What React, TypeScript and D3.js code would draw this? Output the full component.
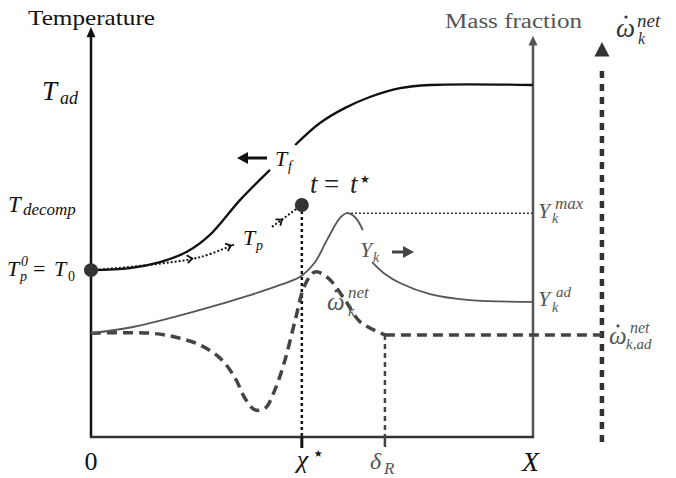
import React from 'react';
import * as d3 from 'd3';

const W = 676;
const H = 478;

// Schematic data: x in 0..100 (0..X along the domain), y in 0..100 (0..T_ad)
const tfX = [0, 8.8, 15.6, 21.7, 26.9, 33.7, 40.5, NaN, 46.2, 51.8, 57.5, 63.1, 69.9, 76.7, 100];
const tfY = [47.4, 48.0, 49.7, 52.6, 57.4, 67.3, 75.9, NaN, 82.95, 89.2, 93.5, 96.6, 99.1, 100, 100];

const tpX = [0, 13.3, 24.7, 32.6, NaN, 40.95, 46.8];
const tpY = [47.4, 48.9, 51.1, 54.8, NaN, 59.7, 65.1];
const tpArrowX = [22.9, 31.7, 43.2];

const ykX = [0, 9.5, 24.7, 36.0, 42.8, 47.3, 50.7, 53.4, 56.3, 57.9, 59.7, 61.5, NaN, 63.6, 66.5, 69.9, 76.7, 85.7, 100];
const ykY = [29.5, 31.25, 36.1, 40.3, 43.2, 45.5, 49.7, 56.0, 62.2, 63.6, 62.5, 58.8, NaN, 49.7, 46.3, 43.75, 40.6, 38.9, 38.4];

const omX = [0, 13.3, 19.0, 24.7, 29.2, 32.6, 34.8, 37.1, 39.4, 41.6, 43.9, 46.2, 48.4, 50.7, 53.6, 57.5, 60.9, 66.5];
const omY = [29.5, 29.5, 28.4, 26.1, 22.4, 16.8, 11.1, 7.7, 8.2, 13.4, 21.9, 33.2, 43.2, 46.9, 45.2, 38.9, 32.7, 29.0];

const T_AD = 100;
const T_DECOMP = 65.9;
const T0 = 47.4;
const Y_MAX = 63.6;
const Y_MAX_X = 57.9;
const Y_AD = 38.4;
const OM_AD = 29.0;
const CHI_STAR = 47.7;
const DELTA_R = 66.5;
const X_END = 100;
const OM_AXIS = 115.6;

const xs = d3.scaleLinear().domain([0, 100]).range([91, 533]);
const ys = d3.scaleLinear().domain([0, 100]).range([437, 85]);

const MF = "Liberation Serif, 'Times New Roman', Times, serif";
const BLACK = '#111';
const GRAY = '#555';

function pts(xa: number[], ya: number[]): [number, number][] {
  return xa.map((x, i) => [x, ya[i]] as [number, number]);
}

const lineGen = d3
  .line<[number, number]>()
  .defined((d) => !isNaN(d[0]) && !isNaN(d[1]))
  .x((d) => xs(d[0]))
  .y((d) => ys(d[1]))
  .curve(d3.curveCatmullRom.alpha(0.5));

function interpAt(xa: number[], ya: number[], x: number) {
  for (let i = 0; i < xa.length - 1; i++) {
    const x0 = xa[i], x1 = xa[i + 1];
    if (isNaN(x0) || isNaN(x1)) continue;
    if (x >= x0 && x <= x1) {
      const t = (x - x0) / (x1 - x0);
      const y = ya[i] + t * (ya[i + 1] - ya[i]);
      const ang = Math.atan2(ys(ya[i + 1]) - ys(ya[i]), xs(x1) - xs(x0));
      return { y, ang };
    }
  }
  return { y: ya[0], ang: 0 };
}

type LabProps = {
  x: number; y: number; base: string; size: number; color: string;
  sup?: string; supX?: number; supY?: number; supSize?: number;
  sub?: string; subX?: number; subY?: number; subSize?: number;
  dot?: [number, number]; italic?: boolean;
};

function Lab(p: LabProps) {
  const style = p.italic === false ? 'normal' : 'italic';
  return (
    <g fill={p.color} style={{ fontFamily: MF }}>
      <text x={p.x} y={p.y} fontSize={p.size} fontStyle={style}>{p.base}</text>
      {p.sup && (
        <text x={p.supX} y={p.supY} fontSize={p.supSize} fontStyle="italic">{p.sup}</text>
      )}
      {p.sub && (
        <text x={p.subX} y={p.subY} fontSize={p.subSize} fontStyle="italic">{p.sub}</text>
      )}
      {p.dot && <circle cx={p.dot[0]} cy={p.dot[1]} r={1.6} />}
    </g>
  );
}

export default function App() {
  const x0 = xs(0);
  const xEnd = xs(X_END);
  const yBase = ys(0);
  const xChi = xs(CHI_STAR);
  const xDel = xs(DELTA_R);
  const xOm = xs(OM_AXIS);

  const chevrons = tpArrowX.map((ax, i) => {
    const { y, ang } = interpAt(tpX, tpY, ax);
    const cx = xs(ax), cy = ys(y);
    const deg = (ang * 180) / Math.PI;
    return (
      <path key={i} d="M-5,-4 L0,0 L-5,4" transform={`translate(${cx},${cy}) rotate(${deg})`}
        fill="none" stroke={BLACK} strokeWidth={1.8} />
    );
  });

  return (
    <svg width={W} height={H} style={{ position: 'absolute', left: 0, top: 0, background: '#fff', fontFamily: MF }}>
      {/* axis titles */}
      <text x={28} y={25} fontSize={21} fill={BLACK} textLength={127} lengthAdjust="spacingAndGlyphs">Temperature</text>
      <text x={445} y={28} fontSize={20} fill={GRAY} textLength={137} lengthAdjust="spacingAndGlyphs">Mass fraction</text>

      {/* left axis */}
      <line x1={x0} y1={yBase + 1} x2={x0} y2={ys(114.5)} stroke={BLACK} strokeWidth={2.5} />
      <path d={`M${x0},${ys(116.5)} L${x0 - 4.5},${ys(113.6)} L${x0 + 4.5},${ys(113.6)} Z`} fill={BLACK} />
      {/* right axis */}
      <line x1={xEnd} y1={yBase + 1} x2={xEnd} y2={ys(112)} stroke={GRAY} strokeWidth={2.5} />
      <path d={`M${xEnd},${ys(114)} L${xEnd - 4.5},${ys(111.2)} L${xEnd + 4.5},${ys(111.2)} Z`} fill={GRAY} />
      {/* bottom axis */}
      <line x1={x0 - 1} y1={yBase} x2={xEnd + 1} y2={yBase} stroke="#333" strokeWidth={2.5} />

      {/* omega axis (dashed) */}
      <line x1={xOm} y1={ys(-1.4)} x2={xOm} y2={ys(104.8)} stroke="#333" strokeWidth={4.5} strokeDasharray="7,6" />
      <path d={`M${xOm},${ys(112.2)} L${xOm - 7.5},${ys(108.1)} L${xOm + 7.5},${ys(108.1)} Z`} fill="#333" />

      {/* chi* vertical dotted + tick */}
      <line x1={xChi} y1={ys(T_DECOMP)} x2={xChi} y2={yBase} stroke={BLACK} strokeWidth={2.5} strokeDasharray="3,3" />
      <line x1={xChi} y1={yBase} x2={xChi} y2={yBase + 11} stroke={BLACK} strokeWidth={3} />
      {/* delta_R vertical dashed + tick */}
      <line x1={xDel} y1={ys(OM_AD)} x2={xDel} y2={yBase} stroke="#444" strokeWidth={2.5} strokeDasharray="5,4" />
      <line x1={xDel} y1={yBase} x2={xDel} y2={yBase + 10} stroke="#444" strokeWidth={2.5} />

      {/* Y_k max dotted */}
      <line x1={xs(Y_MAX_X)} y1={ys(Y_MAX)} x2={xEnd} y2={ys(Y_MAX)} stroke="#333" strokeWidth={1.5} strokeDasharray="2,2" />

      {/* omega curve dashed */}
      <path d={lineGen(pts(omX, omY)) || ''} fill="none" stroke="#444" strokeWidth={3.5} strokeDasharray="10,6" />
      <line x1={xDel} y1={ys(OM_AD)} x2={xOm} y2={ys(OM_AD)} stroke="#444" strokeWidth={3.5} strokeDasharray="10,6" />

      {/* Y_k curve */}
      <path d={lineGen(pts(ykX, ykY)) || ''} fill="none" stroke={GRAY} strokeWidth={1.8} />

      {/* T_f curve */}
      <path d={lineGen(pts(tfX, tfY)) || ''} fill="none" stroke={BLACK} strokeWidth={2.3} />

      {/* T_p dotted */}
      <path d={lineGen(pts(tpX, tpY)) || ''} fill="none" stroke={BLACK} strokeWidth={2} strokeDasharray="2,2" />
      {chevrons}

      {/* dots */}
      <circle cx={x0} cy={ys(T0)} r={7} fill="#333" />
      <circle cx={xChi} cy={ys(T_DECOMP)} r={7} fill="#333" />

      {/* arrows */}
      <line x1={267} y1={158} x2={246} y2={158} stroke={BLACK} strokeWidth={3} />
      <path d="M237,158 L248,152 L248,164 Z" fill={BLACK} />
      <line x1={392} y1={252} x2={405} y2={252} stroke="#444" strokeWidth={3} />
      <path d="M414,252 L403,246 L403,258 Z" fill="#444" />

      {/* left labels */}
      <Lab x={42} y={ys(T_AD) + 15} base="T" size={27} color={BLACK} sub="ad" subX={60} subY={ys(T_AD) + 19} subSize={18} />
      <Lab x={8} y={ys(T_DECOMP) + 7} base="T" size={23} color={BLACK} sub="decomp" subX={23} subY={ys(T_DECOMP) + 10} subSize={17} />
      <Lab x={7} y={ys(T0) + 6} base="T" size={22} color={BLACK}
        sup="0" supX={21} supY={ys(T0) - 4} supSize={14}
        sub="p" subX={20} subY={ys(T0) + 11} subSize={14} />
      <text x={33} y={ys(T0) + 6} fontSize={22} fill={BLACK}>=</text>
      <Lab x={54} y={ys(T0) + 6} base="T" size={22} color={BLACK} />
      <text x={68} y={ys(T0) + 11} fontSize={14} fill={BLACK}>0</text>

      <Lab x={275} y={166} base="T" size={22} color={BLACK} sub="f" subX={288} subY={171} subSize={14} />
      <Lab x={243} y={245} base="T" size={22} color={BLACK} sub="p" subX={256} subY={250} subSize={14} />

      {/* t = t* */}
      <text x={310} y={193} fontSize={27} fontStyle="italic" fill="#222">t</text>
      <text x={324} y={193} fontSize={27} fill="#222">=</text>
      <text x={350} y={193} fontSize={27} fontStyle="italic" fill="#222">t</text>
      <text x={360} y={183} fontFamily="'DejaVu Sans', sans-serif" fontSize={11} fill="#222">★</text>

      {/* right labels */}
      <Lab x={360} y={257} base="Y" size={22} color={GRAY} sub="k" subX={373} subY={262} subSize={14} />
      <Lab x={327} y={310} base="ω" size={25} color={GRAY} dot={[336, 291]}
        sup="net" supX={348} supY={298} supSize={17}
        sub="k" subX={348} subY={316} subSize={15} />
      <Lab x={538} y={ys(Y_MAX) + 5} base="Y" size={22} color={GRAY}
        sup="max" supX={555} supY={ys(Y_MAX) - 4} supSize={17}
        sub="k" subX={552} subY={ys(Y_MAX) + 10} subSize={14} />
      <Lab x={538} y={ys(Y_AD) + 4} base="Y" size={22} color={GRAY}
        sup="ad" supX={556} supY={ys(Y_AD) - 5} supSize={15}
        sub="k" subX={552} subY={ys(Y_AD) + 10} subSize={14} />
      <Lab x={609} y={ys(OM_AD) + 9} base="ω" size={25} color={GRAY} dot={[618, ys(OM_AD) - 9]}
        sup="net" supX={630} supY={ys(OM_AD) - 2} supSize={16}
        sub="k,ad" subX={626} subY={ys(OM_AD) + 14} subSize={15} />
      <Lab x={616} y={37} base="ω" size={27} color="#333" dot={[626, 17]}
        sup="net" supX={637} supY={27} supSize={19}
        sub="k" subX={638} subY={44} subSize={16} />

      {/* x labels */}
      <text x={x0} y={470} textAnchor="middle" fontSize={26} fill={BLACK}>0</text>
      <text x={xChi - 5} y={468} fontSize={26} fontStyle="italic" fill={BLACK}>χ</text>
      <text x={xChi + 12} y={457} fontFamily="'DejaVu Sans', sans-serif" fontSize={10} fill={BLACK}>★</text>
      <Lab x={xDel - 15} y={469} base="δ" size={24} color={GRAY} sub="R" subX={xDel - 1} subY={474} subSize={17} />
      <text x={xEnd - 11} y={471} fontSize={28} fontStyle="italic" fill={BLACK}>X</text>
    </svg>
  );
}
